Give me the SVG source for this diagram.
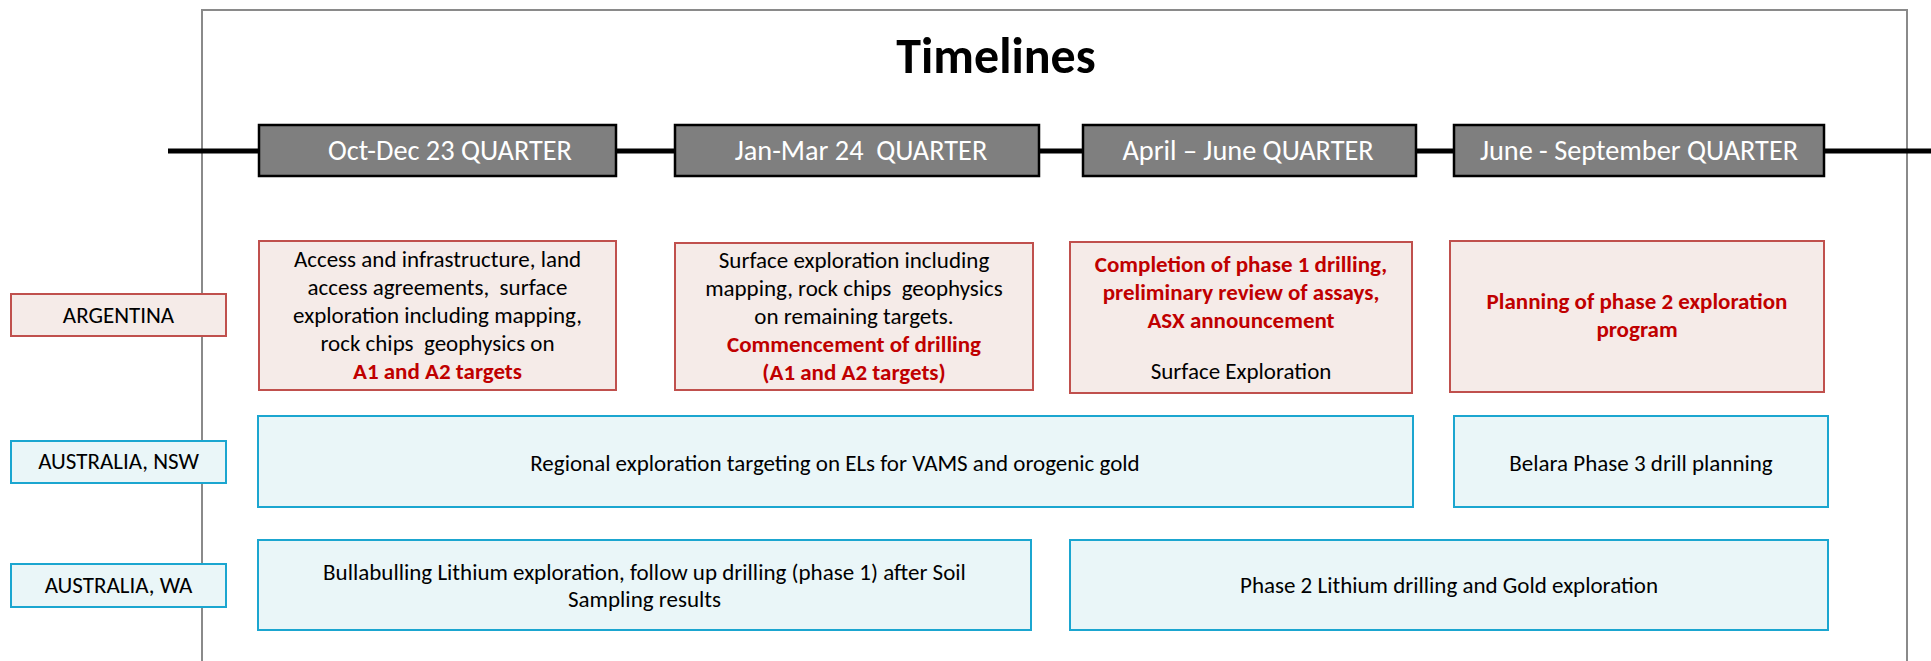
<svg xmlns="http://www.w3.org/2000/svg" width="1931" height="661" viewBox="0 0 1931 661">
<style>
text{font-family:Carlito,Lato,"Liberation Sans",sans-serif;text-anchor:middle}
.frame{fill:none;stroke:#8a8a8a;stroke-width:2}
.q{fill:#7f7f7f;stroke:#000;stroke-width:2.5}
.qt{fill:#fff;font-size:28.3px}
.pk{fill:#f5ebe8;stroke:#c0504d;stroke-width:2}
.bl{fill:#eaf6f8;stroke:#1ba6d0;stroke-width:2}
.t{fill:#000;font-size:23px}
.r{fill:#c00000;font-size:23px;font-weight:bold}
.conn{stroke:#000;stroke-width:5;fill:none}
.title{font-size:50px;font-weight:bold;fill:#000}
</style>
<rect width="1931" height="661" fill="#fff"/>
<rect class="frame" x="202" y="10" width="1705" height="700"/>
<text class="title" x="996" y="73">Timelines</text>
<g id="connectors">
<line class="conn" x1="168" y1="151" x2="259" y2="151"/>
<line class="conn" x1="616" y1="151" x2="675" y2="151"/>
<line class="conn" x1="1039" y1="151" x2="1083" y2="151"/>
<line class="conn" x1="1416" y1="151" x2="1454" y2="151"/>
<line class="conn" x1="1824" y1="151" x2="1931" y2="151"/>
</g>
<g id="q1"><rect class="q" x="259" y="125" width="357" height="51"/><text class="qt" x="450" y="160">Oct-Dec 23 QUARTER</text></g>
<g id="q2"><rect class="q" x="675" y="125" width="364" height="51"/><text class="qt" x="861" y="160" xml:space="preserve">Jan-Mar 24  QUARTER</text></g>
<g id="q3"><rect class="q" x="1083" y="125" width="333" height="51"/><text class="qt" x="1248" y="160">April – June QUARTER</text></g>
<g id="q4"><rect class="q" x="1454" y="125" width="370" height="51"/><text class="qt" x="1639" y="160">June - September QUARTER</text></g>

<g id="lbl-argentina"><rect class="pk" x="11" y="294" width="215" height="42"/><text class="t" x="118.5" y="323">ARGENTINA</text></g>
<g id="lbl-nsw"><rect class="bl" x="11" y="441" width="215" height="42"/><text class="t" x="118.5" y="469">AUSTRALIA, NSW</text></g>
<g id="lbl-wa"><rect class="bl" x="11" y="564" width="215" height="43"/><text class="t" x="118.5" y="593">AUSTRALIA, WA</text></g>

<g id="arg-1"><rect class="pk" x="259" y="241" width="357" height="149"/>
<text class="t" x="437.5" y="267">Access and infrastructure, land</text>
<text class="t" x="437.5" y="295" xml:space="preserve">access agreements,  surface</text>
<text class="t" x="437.5" y="323">exploration including mapping,</text>
<text class="t" x="437.5" y="351" xml:space="preserve">rock chips  geophysics on</text>
<text class="r" x="437.5" y="379">A1 and A2 targets</text></g>

<g id="arg-2"><rect class="pk" x="675" y="243" width="358" height="147"/>
<text class="t" x="854" y="268">Surface exploration including</text>
<text class="t" x="854" y="296" xml:space="preserve">mapping, rock chips  geophysics</text>
<text class="t" x="854" y="324">on remaining targets.</text>
<text class="r" x="854" y="352">Commencement of drilling</text>
<text class="r" x="854" y="380">(A1 and A2 targets)</text></g>

<g id="arg-3"><rect class="pk" x="1070" y="242" width="342" height="151"/>
<text class="r" x="1241" y="272">Completion of phase 1 drilling,</text>
<text class="r" x="1241" y="300">preliminary review of assays,</text>
<text class="r" x="1241" y="328">ASX announcement</text>
<text class="t" x="1241" y="379">Surface Exploration</text></g>

<g id="arg-4"><rect class="pk" x="1450" y="241" width="374" height="151"/>
<text class="r" x="1637" y="309">Planning of phase 2 exploration</text>
<text class="r" x="1637" y="337">program</text></g>

<g id="nsw-1"><rect class="bl" x="258" y="416" width="1155" height="91"/>
<text class="t" x="835" y="471">Regional exploration targeting on ELs for VAMS and orogenic gold</text></g>
<g id="nsw-2"><rect class="bl" x="1454" y="416" width="374" height="91"/>
<text class="t" x="1641" y="471">Belara Phase 3 drill planning</text></g>

<g id="wa-1"><rect class="bl" x="258" y="540" width="773" height="90"/>
<text class="t" x="644.5" y="580">Bullabulling Lithium exploration, follow up drilling (phase 1) after Soil</text>
<text class="t" x="644.5" y="607">Sampling results</text></g>
<g id="wa-2"><rect class="bl" x="1070" y="540" width="758" height="90"/>
<text class="t" x="1449" y="593">Phase 2 Lithium drilling and Gold exploration</text></g>
</svg>
